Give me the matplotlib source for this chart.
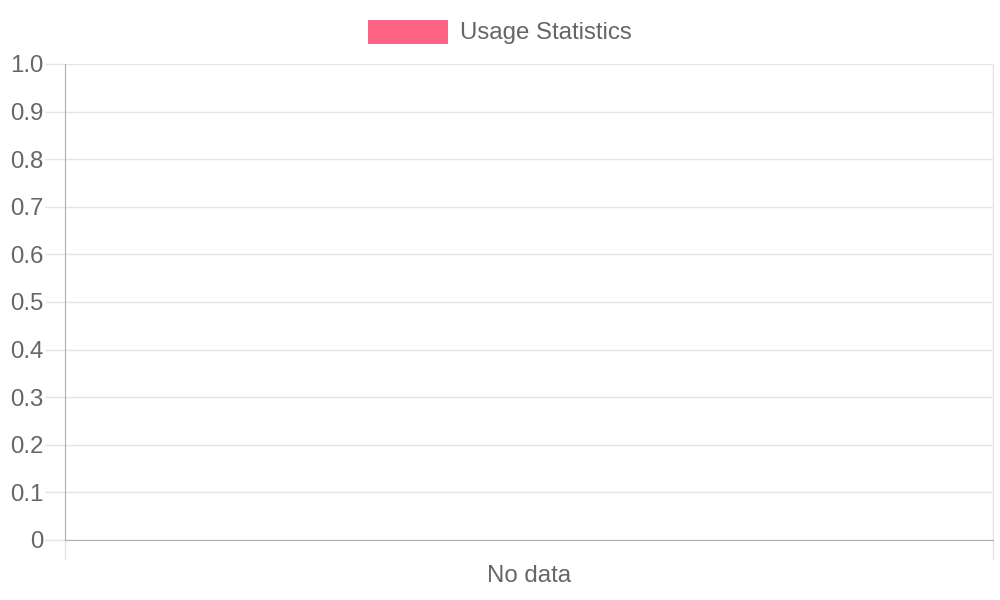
import matplotlib
matplotlib.use("Agg")
import matplotlib.pyplot as plt
from matplotlib.patches import Rectangle

categories = ["No data"]
values = [0]
series_label = "Usage Statistics"
y_ticks = [0, 0.1, 0.2, 0.3, 0.4, 0.5, 0.6, 0.7, 0.8, 0.9, 1.0]
y_tick_labels = ["0", "0.1", "0.2", "0.3", "0.4", "0.5", "0.6", "0.7", "0.8", "0.9", "1.0"]

plt.rcParams['font.family'] = ['Liberation Sans', 'DejaVu Sans']
TEXT = "#666666"
GRID = "#e5e5e5"
AXIS = "#adadad"
BAR = "#ff6384"
PX = 0.72  # points per pixel at 100 dpi

fig = plt.figure(figsize=(10, 6), dpi=100)
W, H = 1000, 600
ax = fig.add_axes([65 / W, 60 / H, 928 / W, 476 / H])

x = list(range(len(categories)))
ax.bar(x, values, width=0.8, color=BAR, alpha=0.6, linewidth=0)
ax.set_xlim(-0.5, len(categories) - 0.5)
ax.set_ylim(0, 1.0)

# y axis
ax.set_yticks(y_ticks)
ax.set_yticklabels(y_tick_labels)
ax.tick_params(axis='y', length=20 * PX, width=1, color=GRID, labelsize=17.3,
               labelcolor=TEXT, pad=1)
ax.yaxis.grid(True, color=GRID, linewidth=1)
ax.set_axisbelow(True)
ax.yaxis.get_major_ticks()[0].tick1line.set_color(AXIS)

# x axis
ax.set_xticks(x)
ax.set_xticklabels(categories)
ax.tick_params(axis='x', which='major', length=0, labelsize=17.3, labelcolor=TEXT,
               pad=25 * PX)
edges = [i - 0.5 for i in range(len(categories) + 1)]
ax.set_xticks(edges, minor=True)
ax.tick_params(axis='x', which='minor', length=19 * PX, width=1, color=GRID)
ax.xaxis.get_minor_ticks()[0].tick1line.set_color(AXIS)
for e in edges[1:]:
    ax.axvline(e, color=GRID, linewidth=1, zorder=0)

ax.spines['top'].set_visible(False)
ax.spines['right'].set_color(GRID)
ax.spines['left'].set_color(AXIS)
ax.spines['bottom'].set_color(AXIS)

# legend
fig.patches.append(Rectangle((368 / W, (H - 44) / H), 80 / W, 24 / H,
                             transform=fig.transFigure, facecolor=BAR,
                             edgecolor='none'))
fig.text(460 / W, (H - 33.5) / H, series_label, fontsize=17.3, color=TEXT,
         ha='left', va='center')

fig.savefig("out.png", dpi=100)
